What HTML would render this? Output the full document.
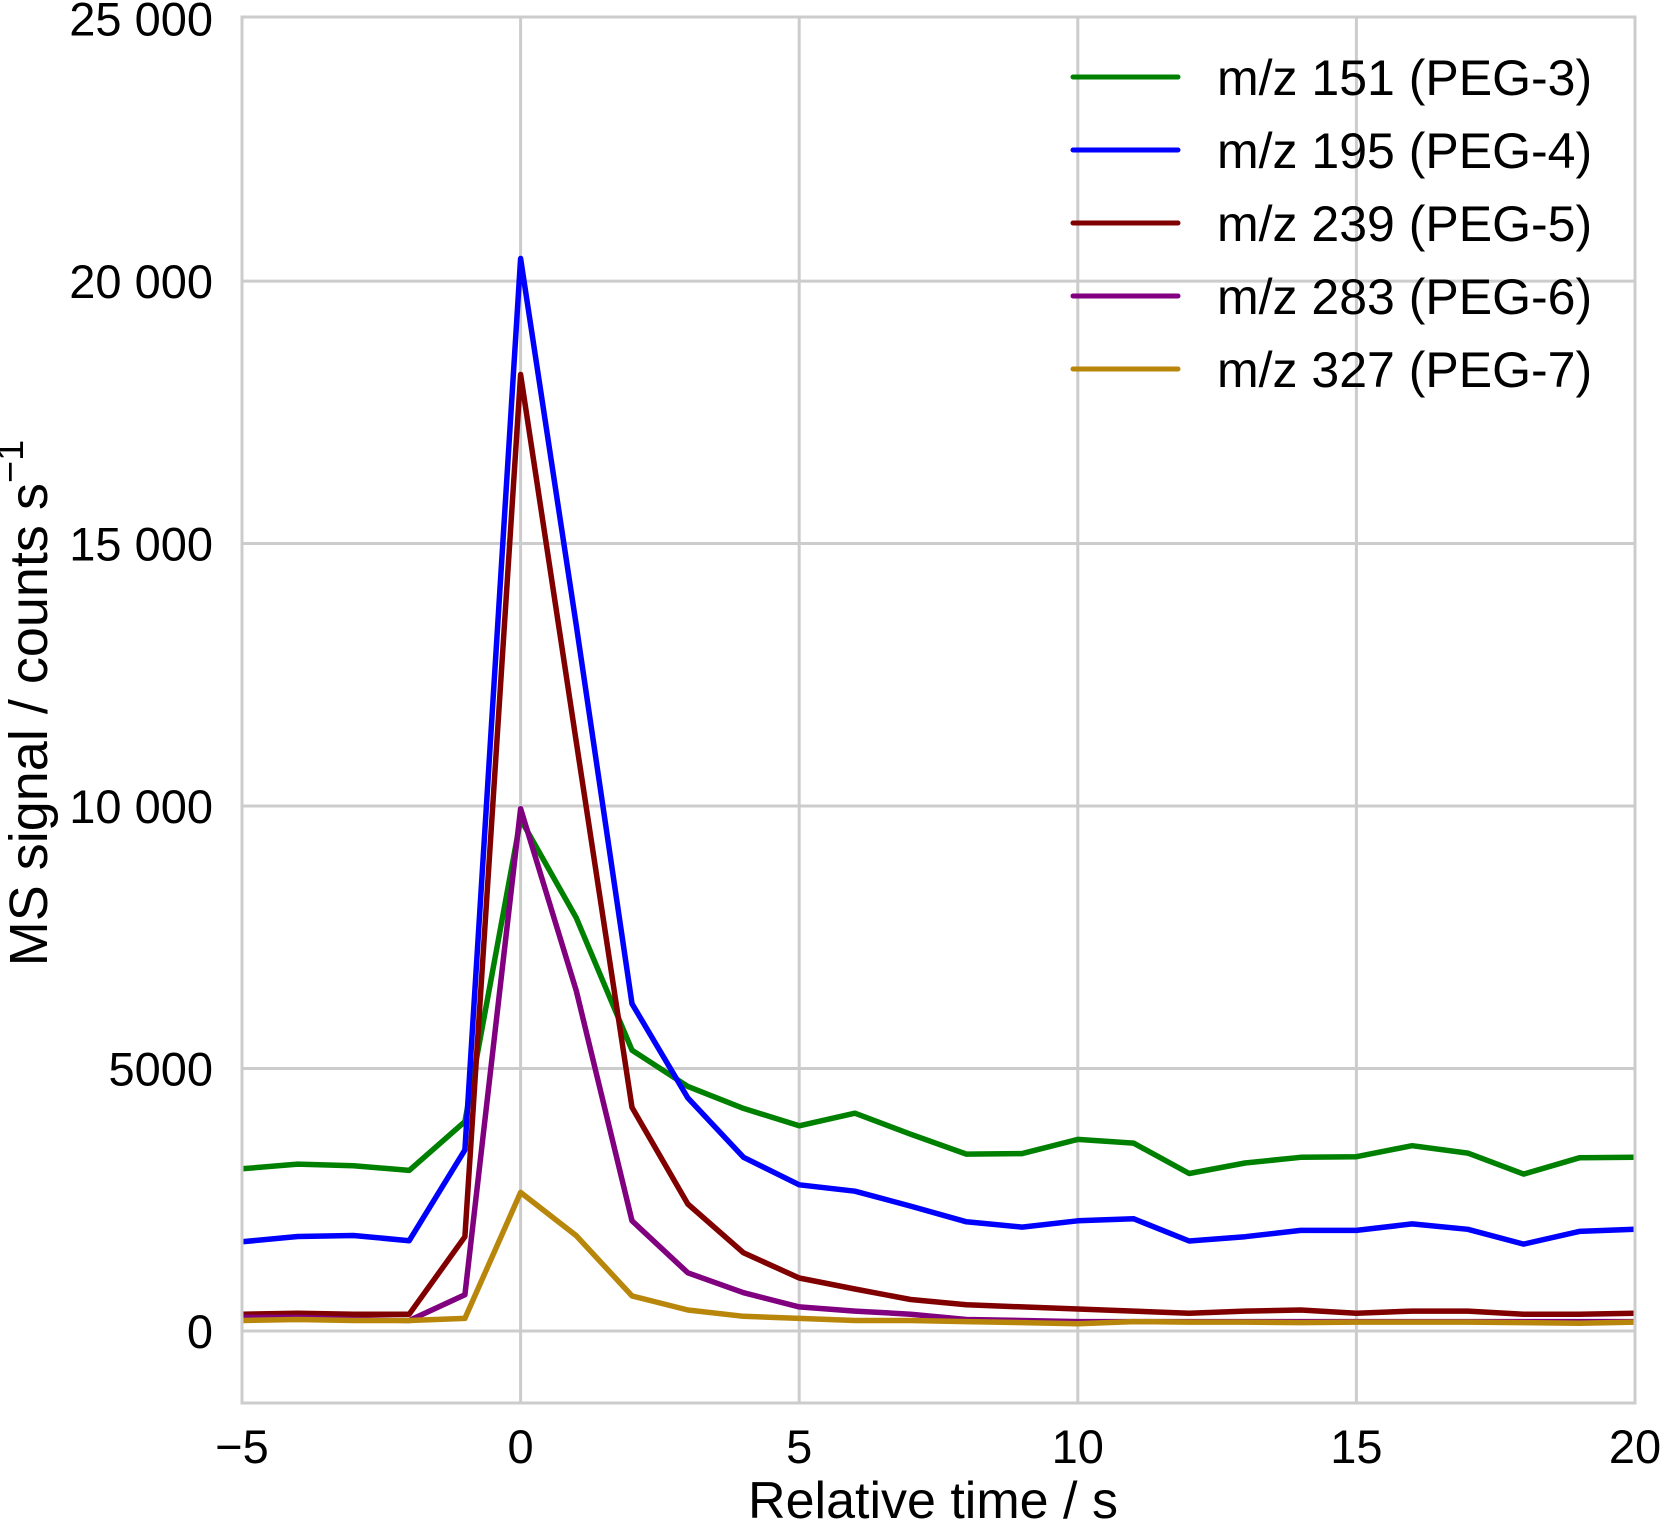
<!DOCTYPE html>
<html><head><meta charset="utf-8"><style>
html,body{margin:0;padding:0;background:#fff;}
svg text{font-family:"Liberation Sans",Arial,sans-serif;fill:#000;}
</style></head><body>
<svg id="chart" width="1662" height="1527" viewBox="0 0 1662 1527" xmlns="http://www.w3.org/2000/svg">
<g id="grid"></g>
<g id="series"></g>
<rect x="242" y="17" width="1393" height="1386" fill="none" stroke="#cccccc" stroke-width="3"/>
<g id="ticks"></g>
<text x="933" y="1518" font-size="52" text-anchor="middle">Relative time / s</text>
<text transform="translate(47,703) rotate(-90)" font-size="54" text-anchor="middle">MS signal / counts s<tspan dy="-24" font-size="38">−1</tspan></text>
<g id="legend"></g>
</svg>
<script>
const times = [-5,-4,-3,-2,-1,0,1,2,3,4,5,6,7,8,9,10,11,12,13,14,15,16,17,18,19,20];
const peg3 = [3090,3180,3150,3060,3990,9750,7870,5350,4660,4240,3910,4150,3750,3370,3380,3650,3580,3000,3200,3310,3320,3530,3390,2990,3300,3310];
const peg4 = [1700,1800,1820,1720,3450,20430,13440,6235,4440,3310,2785,2664,2380,2080,1980,2100,2140,1715,1796,1917,1917,2040,1937,1655,1897,1937];
const peg5 = [320,340,320,320,1796,18220,11220,4260,2420,1490,1010,800,600,500,460,420,380,340,380,400,340,380,380,320,320,340];
const peg6 = [260,260,220,200,690,9950,6480,2100,1110,730,460,380,320,220,200,180,180,180,180,180,180,180,180,180,180,180];
const peg7 = [200,220,200,200,240,2640,1815,670,400,280,240,200,200,180,160,140,180,170,170,160,170,170,170,160,150,170];
const seriesNames = ["m/z 151 (PEG-3)","m/z 195 (PEG-4)","m/z 239 (PEG-5)","m/z 283 (PEG-6)","m/z 327 (PEG-7)"];
const seriesColors = ["#008000","#0000ff","#800000","#800080","#b8860b"];
const xTicks = [-5,0,5,10,15,20];
const xTickLabels = ["−5","0","5","10","15","20"];
const yTicks = [0,5000,10000,15000,20000,25000];
const yTickLabels = ["0","5000","10 000","15 000","20 000","25 000"];

const NS="http://www.w3.org/2000/svg";
const X0=242,X1=1635,Y0=1403,Y1=17, xmin=-5,xmax=20, ymin=-1371, ymax=25030;
function sx(v){return X0+(v-xmin)/(xmax-xmin)*(X1-X0);}
function sy(v){return Y0-(v-ymin)/(ymax-ymin)*(Y0-Y1);}
function mk(tag,attrs,parent){const e=document.createElementNS(NS,tag);for(const k in attrs)e.setAttribute(k,attrs[k]);parent.appendChild(e);return e;}
const grid=document.getElementById('grid'),ticks=document.getElementById('ticks'),ser=document.getElementById('series'),leg=document.getElementById('legend');
xTicks.forEach((t,i)=>{
  const l=mk('line',{x1:sx(t),x2:sx(t),y1:Y1,y2:Y0,stroke:'#cccccc','stroke-width':3},grid);
  
  
  const tx=mk('text',{x:sx(t),y:1463,'font-size':47,'text-anchor':'middle'},ticks);
  tx.textContent=xTickLabels[i];
  
  
});
yTicks.forEach((t,i)=>{
  if(t<25000){
    const l=mk('line',{x1:X0,x2:X1,y1:sy(t),y2:sy(t),stroke:'#cccccc','stroke-width':3},grid);
    
    
  }
  const tx=mk('text',{x:213,y:sy(t)+17,'font-size':47,'text-anchor':'end'},ticks);
  tx.textContent=yTickLabels[i];
  
  
});
const data=[peg3,peg4,peg5,peg6,peg7];
data.forEach((arr,si)=>{
  const pts=arr.map((v,i)=>sx(times[i]).toFixed(1)+','+sy(v).toFixed(1)).join(' ');
  const p=mk('polyline',{points:pts,fill:'none',stroke:seriesColors[si],'stroke-width':5.5,'stroke-linejoin':'round'},ser);
  
  
});
const legY=[77,150,223,296,369];
seriesNames.forEach((n,i)=>{
  const l=mk('line',{x1:1073,x2:1178,y1:legY[i],y2:legY[i],stroke:seriesColors[i],'stroke-width':5,'stroke-linecap':'round'},leg);
  
  
  const t=mk('text',{x:1217,y:legY[i]+18,'font-size':50},leg);
  t.textContent=n;
  
  
});
</script>
</body></html>
